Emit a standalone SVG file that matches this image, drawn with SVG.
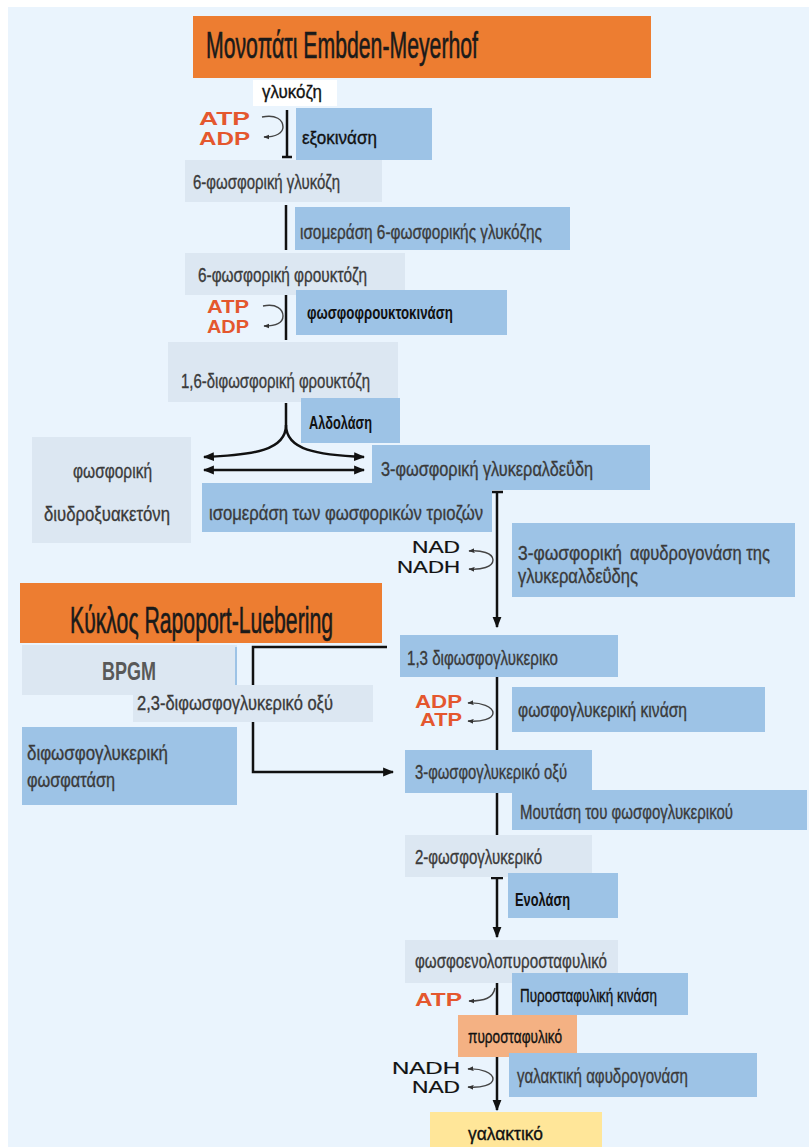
<svg xmlns="http://www.w3.org/2000/svg" width="809" height="1147" viewBox="0 0 809 1147">
<defs>
<style>
.t{font-family:"Liberation Sans",Arial,sans-serif;font-size:20px;fill:#3a3a3a;stroke:#3a3a3a;stroke-width:0.35}
.k{font-family:"Liberation Sans",Arial,sans-serif;font-size:19px;fill:#111;stroke:#111;stroke-width:0.35}
.kb{font-family:"Liberation Sans",Arial,sans-serif;font-size:18px;font-weight:bold;fill:#111}
.hd{font-family:"Liberation Sans",Arial,sans-serif;font-size:36px;fill:#1a1a1a;stroke:#1a1a1a;stroke-width:0.6}
.en{font-family:"Liberation Sans",Arial,sans-serif;font-size:18px;font-weight:bold;fill:#e4572e}
.nd{font-family:"Liberation Sans",Arial,sans-serif;font-size:16px;fill:#111;stroke:#111;stroke-width:0.2}
.blue{fill:#9dc3e6}
.pale{fill:#dce7f2}
.org{fill:#ed7d31}
.ln{stroke:#111;stroke-width:2.5;fill:none}
.cv{stroke:#444;stroke-width:1.4;fill:none}
</style>
<marker id="ah" viewBox="0 0 10 10" refX="9" refY="5" markerWidth="11" markerHeight="11" markerUnits="userSpaceOnUse" orient="auto-start-reverse"><path d="M0,1 L10,5 L0,9 z" fill="#111"/></marker>
<marker id="sa" viewBox="0 0 10 10" refX="9" refY="5" markerWidth="6" markerHeight="6" markerUnits="userSpaceOnUse" orient="auto-start-reverse"><path d="M0,1 L10,5 L0,9 z" fill="#333"/></marker>
</defs>
<rect x="0" y="0" width="809" height="1147" fill="#ffffff"/>
<rect x="8" y="7" width="801" height="1140" fill="#eaf4fd"/>

<g id="connectors">
<line class="ln" x1="287" y1="110" x2="287" y2="157"/>
<line class="ln" x1="282" y1="157" x2="292" y2="157"/>
<path class="cv" d="M262,117 C276,114 283,120 283,127 C283,133 276,137 264,137" marker-end="url(#sa)"/>
<line class="ln" x1="286" y1="205" x2="286" y2="250"/>
<line class="ln" x1="286" y1="295" x2="286" y2="340"/>
<path class="cv" d="M263,306 C277,303 283,310 283,316 C283,322 277,326 264,326" marker-end="url(#sa)"/>
<path class="ln" d="M286,403 L286,425 C286,450 255,455 204,457" marker-end="url(#ah)"/>
<path class="ln" d="M286,425 C286,450 317,455 364,457" marker-end="url(#ah)"/>
<line class="ln" x1="204" y1="470" x2="364" y2="470" marker-start="url(#ah)" marker-end="url(#ah)"/>
<line class="ln" x1="497" y1="492" x2="497" y2="627" marker-end="url(#ah)"/>
<line class="ln" x1="491" y1="492" x2="503" y2="492"/>
<path class="cv" d="M469,551 C481,550 493,553 493,560 C493,567 481,570 469,569" marker-start="url(#sa)" marker-end="url(#sa)"/>
<line class="ln" x1="497" y1="677" x2="497" y2="750"/>
<path class="cv" d="M468,703 C481,702 493,707 493,713 C493,719 481,722 468,721" marker-start="url(#sa)" marker-end="url(#sa)"/>
<path class="ln" d="M387,647 L253,647 L253,772 L393,772" stroke-width="2" marker-end="url(#ah)"/>
<line class="ln" x1="497" y1="793" x2="497" y2="835"/>
<line class="ln" x1="497" y1="878" x2="497" y2="937" marker-end="url(#ah)"/>
<line class="ln" x1="491" y1="878" x2="503" y2="878"/>
<line class="ln" x1="497" y1="983" x2="497" y2="1015"/>
<path class="cv" d="M495,988 C493,998 485,1001 469,1001" marker-end="url(#sa)"/>
<line class="ln" x1="497" y1="1057" x2="497" y2="1110" marker-end="url(#ah)"/>
<path class="cv" d="M468,1069 C481,1068 493,1073 493,1079 C493,1085 481,1088 468,1087" marker-start="url(#sa)" marker-end="url(#sa)"/>
</g>

<g id="title-embden"><rect class="org" x="193" y="16" width="458" height="62"/><text class="hd" x="206" y="58" textLength="272" lengthAdjust="spacingAndGlyphs">Μονοπάτι Embden-Meyerhof</text></g>
<g id="glucose"><rect x="253" y="80" width="84" height="26" fill="#ffffff"/><text class="k" x="262" y="98" textLength="60" lengthAdjust="spacingAndGlyphs">γλυκόζη</text></g>
<g id="atp-adp-1"><text class="en" x="199" y="125" textLength="51" lengthAdjust="spacingAndGlyphs">ATP</text><text class="en" x="199" y="145" textLength="51" lengthAdjust="spacingAndGlyphs">ADP</text></g>
<g id="hexokinase"><rect class="blue" x="296" y="108" width="136" height="52"/><text class="k" x="302" y="144" textLength="75" lengthAdjust="spacingAndGlyphs">εξοκινάση</text></g>
<g id="g6p"><rect class="pale" x="185" y="160" width="197" height="42"/><text class="t" x="193" y="189" textLength="147" lengthAdjust="spacingAndGlyphs">6-φωσφορική γλυκόζη</text></g>
<g id="gpi"><rect class="blue" x="295" y="207" width="275" height="43"/><text class="t" x="300" y="239" textLength="242" lengthAdjust="spacingAndGlyphs">ισομεράση 6-φωσφορικής γλυκόζης</text></g>
<g id="f6p"><rect class="pale" x="185" y="253" width="220" height="42"/><text class="t" x="198" y="282" textLength="169" lengthAdjust="spacingAndGlyphs">6-φωσφορική φρουκτόζη</text></g>
<g id="atp-adp-2"><text class="en" x="207" y="313" textLength="42" lengthAdjust="spacingAndGlyphs">ATP</text><text class="en" x="207" y="333" textLength="42" lengthAdjust="spacingAndGlyphs">ADP</text></g>
<g id="pfk"><rect class="blue" x="296" y="290" width="211" height="45"/><text class="kb" x="307" y="319" textLength="146" lengthAdjust="spacingAndGlyphs">φωσφοφρουκτοκινάση</text></g>
<g id="f16bp"><rect class="pale" x="168" y="342" width="230" height="60"/><text class="t" x="181" y="388" textLength="189" lengthAdjust="spacingAndGlyphs">1,6-διφωσφορική φρουκτόζη</text></g>
<g id="aldolase"><rect class="blue" x="301" y="398" width="99" height="45"/><text class="kb" x="309" y="429" textLength="63" lengthAdjust="spacingAndGlyphs">Αλδολάση</text></g>
<g id="g3p"><rect class="blue" x="372" y="445" width="278" height="45"/><text class="t" x="381" y="476" font-size="21" textLength="212" lengthAdjust="spacingAndGlyphs">3-φωσφορική γλυκεραλδεΰδη</text></g>
<g id="dhap"><rect class="pale" x="32" y="437" width="159" height="106"/><text class="t" x="73" y="478" textLength="79" lengthAdjust="spacingAndGlyphs">φωσφορική</text><text class="t" x="44" y="521" textLength="126" lengthAdjust="spacingAndGlyphs">διυδροξυακετόνη</text></g>
<g id="tpi"><rect class="blue" x="202" y="483" width="290" height="49"/><text class="t" x="209" y="520" font-size="21" textLength="274" lengthAdjust="spacingAndGlyphs">ισομεράση των φωσφορικών τριοζών</text></g>
<g id="nad-nadh-1"><text class="nd" x="412" y="553" textLength="48" lengthAdjust="spacingAndGlyphs">NAD</text><text class="nd" x="397" y="573" textLength="63" lengthAdjust="spacingAndGlyphs">NADH</text></g>
<g id="gapdh"><rect class="blue" x="512" y="523" width="283" height="74"/><text class="t" x="518" y="560" font-size="19" textLength="104" lengthAdjust="spacingAndGlyphs">3-φωσφορική</text><text class="t" x="630" y="560" font-size="19" textLength="140" lengthAdjust="spacingAndGlyphs">αφυδρογονάση της</text><text class="t" x="518" y="583" font-size="19" textLength="120" lengthAdjust="spacingAndGlyphs">γλυκεραλδεΰδης</text></g>
<g id="title-rapoport"><rect class="org" x="20" y="583" width="362" height="60"/><text class="hd" x="70" y="633" font-size="31" textLength="263" lengthAdjust="spacingAndGlyphs">Κύκλος Rapoport-Luebering</text></g>
<g id="bpgm"><rect class="pale" x="22" y="645" width="215" height="50"/><line x1="236" y1="647" x2="236" y2="693" stroke="#9dc3e6" stroke-width="2"/><text x="102" y="680" font-family="Liberation Sans, Arial, sans-serif" font-size="26" font-weight="bold" fill="#595959" textLength="54" lengthAdjust="spacingAndGlyphs">BPGM</text></g>
<g id="bpg23"><rect class="pale" x="133" y="685" width="240" height="37"/><text class="t" x="137" y="710" textLength="196" lengthAdjust="spacingAndGlyphs">2,3-διφωσφογλυκερικό οξύ</text></g>
<g id="bpgp"><rect class="blue" x="22" y="727" width="215" height="78"/><text class="t" x="27" y="760" textLength="141" lengthAdjust="spacingAndGlyphs">διφωσφογλυκερική</text><text class="t" x="27" y="787" textLength="88" lengthAdjust="spacingAndGlyphs">φωσφατάση</text></g>
<g id="bpg13"><rect class="blue" x="400" y="635" width="218" height="42"/><text class="t" x="407" y="665" textLength="151" lengthAdjust="spacingAndGlyphs">1,3 διφωσφογλυκερικο</text></g>
<g id="adp-atp-3"><text class="en" x="415" y="708" textLength="47" lengthAdjust="spacingAndGlyphs">ADP</text><text class="en" x="420" y="726" textLength="42" lengthAdjust="spacingAndGlyphs">ATP</text></g>
<g id="pgk"><rect class="blue" x="512" y="687" width="253" height="45"/><text class="t" x="518" y="717" textLength="169" lengthAdjust="spacingAndGlyphs">φωσφογλυκερική κινάση</text></g>
<g id="pg3"><rect class="blue" x="405" y="750" width="187" height="43"/><text class="t" x="415" y="779" textLength="152" lengthAdjust="spacingAndGlyphs">3-φωσφογλυκερικό οξύ</text></g>
<g id="pgm"><rect class="blue" x="512" y="790" width="295" height="40"/><text class="t" x="520" y="819" font-size="19" textLength="213" lengthAdjust="spacingAndGlyphs">Μουτάση του φωσφογλυκερικού</text></g>
<g id="pg2"><rect class="pale" x="405" y="835" width="187" height="42"/><text class="t" x="415" y="864" textLength="127" lengthAdjust="spacingAndGlyphs">2-φωσφογλυκερικό</text></g>
<g id="enolase"><rect class="blue" x="508" y="873" width="110" height="45"/><text class="kb" x="515" y="906" textLength="55" lengthAdjust="spacingAndGlyphs">Ενολάση</text></g>
<g id="pep"><rect class="pale" x="405" y="940" width="213" height="43"/><text class="t" x="415" y="968" textLength="192" lengthAdjust="spacingAndGlyphs">φωσφοενολοπυροσταφυλικό</text></g>
<g id="pk"><rect class="blue" x="512" y="973" width="176" height="42"/><text class="k" x="520" y="1002" textLength="137" lengthAdjust="spacingAndGlyphs">Πυροσταφυλική κινάση</text></g>
<g id="atp-4"><text class="en" x="415" y="1006" textLength="47" lengthAdjust="spacingAndGlyphs">ATP</text></g>
<g id="pyruvate"><rect x="458" y="1015" width="119" height="42" fill="#f4b183"/><text class="k" x="468" y="1043" textLength="94" lengthAdjust="spacingAndGlyphs">πυροσταφυλικό</text></g>
<g id="nadh-nad-2"><text class="nd" x="392" y="1074" textLength="68" lengthAdjust="spacingAndGlyphs">NADH</text><text class="nd" x="412" y="1093" textLength="48" lengthAdjust="spacingAndGlyphs">NAD</text></g>
<g id="ldh"><rect class="blue" x="509" y="1053" width="248" height="44"/><text class="t" x="517" y="1083" font-size="21" textLength="171" lengthAdjust="spacingAndGlyphs">γαλακτική αφυδρογονάση</text></g>
<g id="lactate"><rect x="430" y="1112" width="172" height="35" fill="#ffe699"/><text class="k" x="468" y="1140" textLength="75" lengthAdjust="spacingAndGlyphs">γαλακτικό</text></g>
</svg>
